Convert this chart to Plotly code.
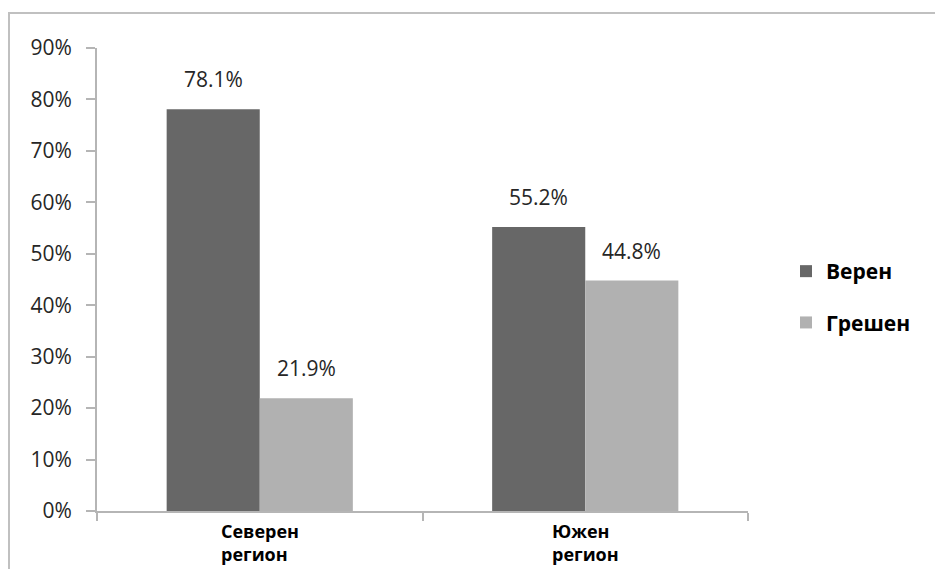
import plotly.graph_objects as go

# Share of correct / wrong answers per region
regions = ["Северен регион", "Южен регион"]
region_labels = ["Северен<br>регион", "Южен<br>регион"]
series_names = ["Верен", "Грешен"]
correct = [78.1, 55.2]
wrong = [21.9, 44.8]
y_ticks = [0, 10, 20, 30, 40, 50, 60, 70, 80, 90]

colors = ["#676767", "#b1b1b1"]
values = [correct, wrong]

W, H = 935, 569
ML, MR, MT, MB = 97, 187, 48, 58
plot_w = W - ML - MR
plot_h = H - MT - MB
bargap = 0.428

fig = go.Figure()
for name, vals, col in zip(series_names, values, colors):
    fig.add_trace(go.Bar(
        x=regions, y=vals, name=name, legendgroup=name,
        marker=dict(color=col, line=dict(width=0)),
    ))

# value labels above each bar
cat_px = plot_w / len(regions)
bar_px = cat_px * (1 - bargap) / len(series_names)
for si, vals in enumerate(values):
    offset = (si - (len(series_names) - 1) / 2) * bar_px
    for cat, v in zip(regions, vals):
        fig.add_annotation(
            x=cat, y=v, xref="x", yref="y", text=f"{v:.1f}%",
            showarrow=False, xshift=offset, yshift=14, yanchor="bottom",
            font=dict(family="Open Sans", size=21, color="#262626"),
        )

# category labels, left-aligned block under each group
for cat, lab in zip(regions, region_labels):
    fig.add_annotation(
        x=cat, y=0, xref="x", yref="paper", text=lab, showarrow=False,
        align="left", yanchor="top", yshift=-6,
        font=dict(family="Open Sans", size=18, color="#000000", weight="bold"),
    )

# outer chart frame
fig.add_shape(
    type="rect", xref="paper", yref="paper",
    x0=(9 - ML) / plot_w, x1=1.4, y0=-0.3, y1=1 + (MT - 13) / plot_h,
    line=dict(color="#c0c0c0", width=2), fillcolor="rgba(0,0,0,0)", layer="below",
)

fig.update_layout(
    width=W, height=H,
    margin=dict(l=ML, r=MR, t=MT, b=MB),
    paper_bgcolor="white", plot_bgcolor="white",
    barmode="group", bargap=bargap, bargroupgap=0,
    showlegend=True,
    legend=dict(
        x=(786 - ML) / plot_w, y=(MT + plot_h - 251) / plot_h, xanchor="left", yanchor="top",
        font=dict(family="Open Sans", size=21, color="#000000", weight="bold"),
        tracegroupgap=21, itemwidth=30,
    ),
    xaxis=dict(
        showticklabels=False, tickson="boundaries", ticks="outside",
        ticklen=8, tickwidth=2, tickcolor="#b5b5b5",
        showline=True, linecolor="#b5b5b5", linewidth=2, showgrid=False,
    ),
    yaxis=dict(
        range=[0, 90], tickvals=y_ticks, ticktext=[f"{t}%" for t in y_ticks],
        ticks="outside", ticklen=9, tickwidth=2, tickcolor="#b5b5b5",
        showline=True, linecolor="#b5b5b5", linewidth=2, showgrid=False,
        zeroline=False, ticklabelstandoff=10,
        tickfont=dict(family="Open Sans", size=21, color="#262626"),
    ),
)

fig.write_html("out.html")
